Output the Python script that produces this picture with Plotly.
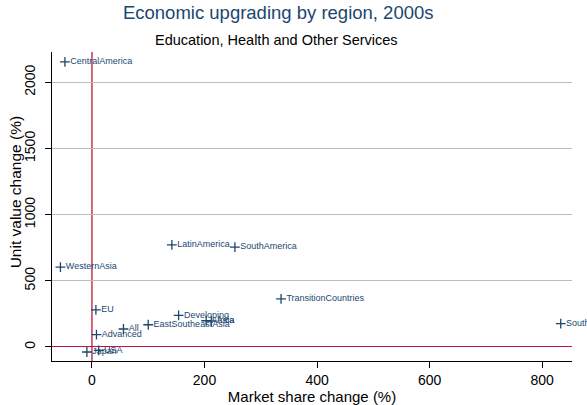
import plotly.graph_objects as go

regions = ["CentralAmerica", "WesternAsia", "LatinAmerica", "SouthAmerica",
           "TransitionCountries", "EU", "Developing", "Africa", "Asia",
           "EastSoutheastAsia", "All", "Advanced", "USA", "Japan", "SouthAsia"]
market_share = [-48, -56, 142, 254, 336, 7, 154, 203, 212, 100, 56, 8, 12, -9, 833]
unit_value = [2155, 604, 772, 755, 364, 281, 239, 198, 196, 168, 136, 93, -26, -38, 176]

x_ticks = [0, 200, 400, 600, 800]
y_ticks = [0, 500, 1000, 1500, 2000]

navy = "#1a476f"
red = "#c0163a"
font_family = "Liberation Sans, Arial, sans-serif"

fig = go.Figure()
fig.add_trace(go.Scatter(
    x=market_share, y=unit_value, text=regions,
    mode="markers+text", textposition="middle right",
    textfont=dict(size=9, color=navy, family=font_family),
    marker=dict(symbol="cross-thin", size=7, color=navy,
                line=dict(width=1.3, color=navy)),
    cliponaxis=False, showlegend=False,
))

# vertical red reference line at x = 0
fig.add_shape(type="line", xref="x", yref="paper", x0=0, x1=0, y0=0, y1=1,
              line=dict(color=red, width=1.3), layer="between")

fig.update_layout(
    width=587, height=405,
    margin=dict(l=52, r=15, t=52, b=44, autoexpand=False),
    paper_bgcolor="white", plot_bgcolor="white",
    font=dict(family=font_family, color="black"),
    title=dict(text="Economic upgrading by region, 2000s",
               x=0.474, xanchor="center", xref="container",
               y=0.968, yanchor="middle", yref="container",
               font=dict(size=18.5, color=navy, family=font_family)),
    annotations=[
        dict(text="Unit value change (%)", textangle=-90,
             xref="paper", yref="paper", x=-0.0685, y=0.547,
             xanchor="center", yanchor="middle", showarrow=False,
             font=dict(size=15.5, color="black", family=font_family)),
        dict(text="Education, Health and Other Services",
             xref="paper", yref="paper", x=0.431, y=1.039,
             xanchor="center", yanchor="middle", showarrow=False,
             font=dict(size=14.5, color="black", family=font_family)),
    ],
)
fig.update_xaxes(
    range=[-71, 853], tickvals=x_ticks, ticktext=[str(v) for v in x_ticks],
    showgrid=False, zeroline=False,
    automargin=False,
    showline=True, linecolor="black", linewidth=1,
    ticks="outside", ticklen=6, tickcolor="black",
    tickfont=dict(size=14, family=font_family),
    title=dict(text="Market share change (%)", font=dict(size=15, family=font_family),
               standoff=2),
)
fig.update_yaxes(
    range=[-106, 2229], tickvals=y_ticks, ticktext=[str(v) for v in y_ticks],
    showgrid=True, gridcolor="#bdbdbd", gridwidth=1.3,
    zeroline=True, zerolinecolor=red, zerolinewidth=1.3, automargin=False,
    showline=True, linecolor="black", linewidth=1,
    ticks="outside", ticklen=6, tickcolor="black", tickangle=-90,
    ticklabelstandoff=4,
    tickfont=dict(size=14, family=font_family),
)

fig.write_html("out.html", config={"displayModeBar": False},
               post_script="document.body.style.margin='0';")
